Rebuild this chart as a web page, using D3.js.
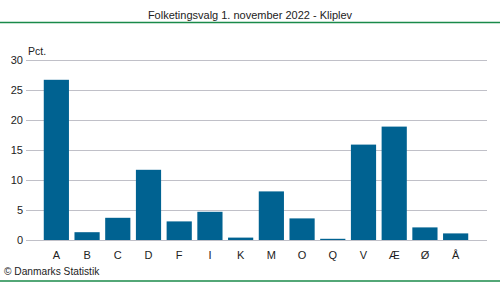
<!DOCTYPE html>
<html>
<head>
<meta charset="utf-8">
<script src="https://cdn.jsdelivr.net/npm/d3@7"></script>
<style>
  body { margin: 0; background: #fff; }
  text { font-family: "Liberation Sans", Arial, sans-serif; fill: #222; }
</style>
</head>
<body>
<script>
const parties = ["A", "B", "C", "D", "F", "I", "K", "M", "O", "Q", "V", "Æ", "Ø", "Å"];
const pct     = [26.7, 1.3, 3.7, 11.7, 3.1, 4.7, 0.4, 8.1, 3.6, 0.2, 15.9, 18.9, 2.1, 1.1];
const yTicks  = [0, 5, 10, 15, 20, 25, 30];

const width = 500;
const height = 282;

const svg = d3.select("body")
  .append("svg")
  .attr("width", width)
  .attr("height", height);

// titel + grøn linje
svg.append("text")
  .attr("x", 250)
  .attr("y", 19)
  .attr("text-anchor", "middle")
  .style("font-size", "11px")
  .text("Folketingsvalg 1. november 2022 - Kliplev");

svg.append("line")
  .attr("x1", 0).attr("x2", width)
  .attr("y1", 22.5).attr("y2", 22.5)
  .attr("stroke", "#1a8a4a")
  .attr("stroke-width", 1.5);

svg.append("line")
  .attr("x1", 0).attr("x2", width)
  .attr("y1", 281).attr("y2", 281)
  .attr("stroke", "#1a8a4a")
  .attr("stroke-width", 1.5);

const x = d3.scaleBand()
  .domain(parties)
  .range([41, 471])
  .paddingInner(0.18)
  .paddingOuter(0.09);

const y = d3.scaleLinear()
  .domain([0, 30])
  .range([240, 60]);

// gitterlinjer
svg.selectAll("line.grid")
  .data(yTicks)
  .enter()
  .append("line")
  .attr("class", "grid")
  .attr("x1", 26)
  .attr("x2", 487)
  .attr("y1", d => Math.round(y(d)) + 0.5)
  .attr("y2", d => Math.round(y(d)) + 0.5)
  .attr("stroke", "#c0c0c8")
  .attr("stroke-width", 1);

svg.selectAll("text.ytick")
  .data(yTicks)
  .enter()
  .append("text")
  .attr("class", "ytick")
  .attr("x", 23)
  .attr("y", d => y(d) + 4)
  .attr("text-anchor", "end")
  .style("font-size", "11px")
  .text(d => d);

svg.append("text")
  .attr("x", 28)
  .attr("y", 55)
  .style("font-size", "10.5px")
  .text("Pct.");

// søjler
svg.selectAll("rect")
  .data(pct)
  .enter()
  .append("rect")
  .attr("x", (d, i) => x(parties[i]))
  .attr("width", x.bandwidth())
  .attr("y", d => y(d))
  .attr("height", d => y(0) - y(d))
  .attr("fill", "#006291");

svg.selectAll("text.xtick")
  .data(parties)
  .enter()
  .append("text")
  .attr("class", "xtick")
  .attr("x", d => x(d) + x.bandwidth() / 2)
  .attr("y", 259)
  .attr("text-anchor", "middle")
  .style("font-size", "11px")
  .text(d => d);

svg.append("text")
  .attr("x", 4)
  .attr("y", 275)
  .style("font-size", "10.2px")
  .text("© Danmarks Statistik");
</script>
</body>
</html>
